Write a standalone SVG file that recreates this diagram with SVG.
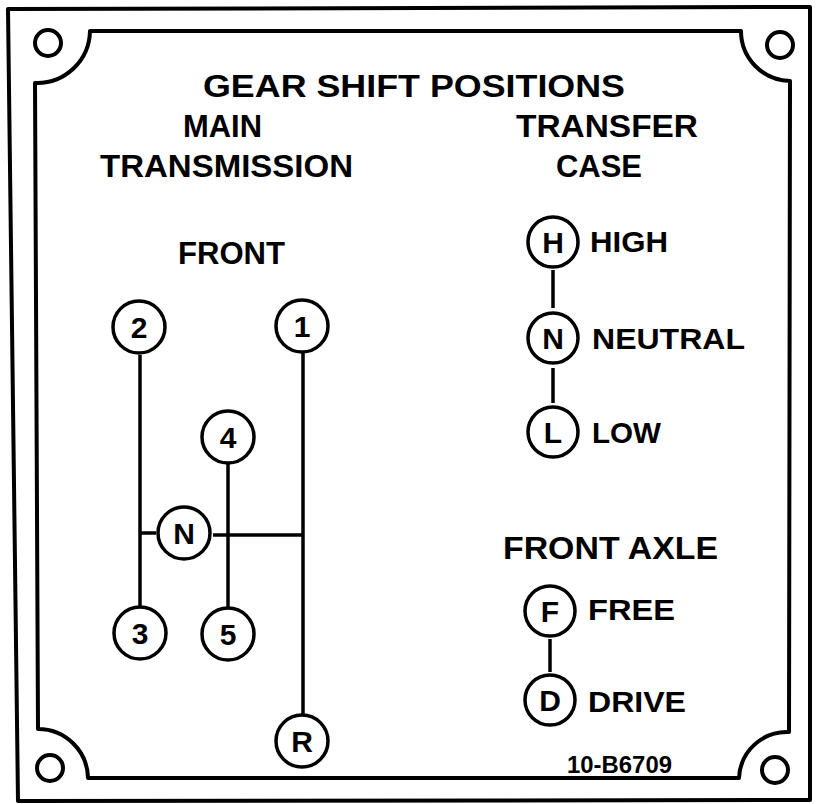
<svg xmlns="http://www.w3.org/2000/svg" width="817" height="804" viewBox="0 0 817 804">
<style>
.frame{fill:none;stroke:#000;stroke-width:4;stroke-linejoin:round}
.hole{fill:none;stroke:#000;stroke-width:4}
.ring{fill:#fff;stroke:#000;stroke-width:3.5}
.ln{stroke:#000;stroke-width:3.5;fill:none}
text{font-family:"Liberation Sans",Arial,sans-serif;font-weight:bold;fill:#000}
.h{font-size:32px}
.lab{font-size:30px}
.c{font-size:30px;text-anchor:middle}
</style>
<rect width="817" height="804" fill="#fff"/>
<g id="plate">
<path class="frame" d="M8,9 L810,7 L810,800 L18,801 Z"/>
<path class="frame" d="M90,31 L741,31 A50,50 0 0 0 790,81 L789,732 A48,48 0 0 0 739,778 L88,778 A50,50 0 0 0 38,729 L35,83 A53,53 0 0 0 90,31 Z"/>
<circle class="hole" cx="48" cy="43" r="13"/>
<circle class="hole" cx="780" cy="45" r="13"/>
<circle class="hole" cx="50" cy="768" r="13"/>
<circle class="hole" cx="775" cy="770" r="13"/>
</g>
<g id="titles">
<text class="h" x="203" y="97" textLength="422" lengthAdjust="spacingAndGlyphs">GEAR SHIFT POSITIONS</text>
<text class="h" x="183" y="137" textLength="79" lengthAdjust="spacingAndGlyphs">MAIN</text>
<text class="h" x="100" y="177" textLength="253" lengthAdjust="spacingAndGlyphs">TRANSMISSION</text>
<text class="h" x="516" y="137" textLength="182" lengthAdjust="spacingAndGlyphs">TRANSFER</text>
<text class="h" x="556" y="177" textLength="86" lengthAdjust="spacingAndGlyphs">CASE</text>
<text class="h" x="178" y="264" textLength="107" lengthAdjust="spacingAndGlyphs">FRONT</text>
<text class="h" x="503" y="559" textLength="215" lengthAdjust="spacingAndGlyphs">FRONT AXLE</text>
<text style="font-size:23px" x="567" y="773" textLength="105" lengthAdjust="spacingAndGlyphs">10-B6709</text>
</g>
<g id="connectors">
<line class="ln" x1="140" y1="355" x2="140" y2="606"/>
<line class="ln" x1="140" y1="533" x2="156" y2="533"/>
<line class="ln" x1="228" y1="464" x2="228" y2="608"/>
<line class="ln" x1="303" y1="353" x2="303" y2="714"/>
<line class="ln" x1="213" y1="535" x2="303" y2="535"/>
<line class="ln" x1="553" y1="270" x2="553" y2="308"/>
<line class="ln" x1="553" y1="368" x2="553" y2="403"/>
<line class="ln" x1="550" y1="639" x2="550" y2="672"/>
</g>
<g id="g2"><circle class="ring" cx="139" cy="327" r="26"/><text class="c" x="139" y="338">2</text></g>
<g id="g1"><circle class="ring" cx="302" cy="326" r="26"/><text class="c" x="302" y="337">1</text></g>
<g id="g4"><circle class="ring" cx="228" cy="437" r="26"/><text class="c" x="228" y="448">4</text></g>
<g id="gN"><circle class="ring" cx="184" cy="533" r="26"/><text class="c" x="184" y="544">N</text></g>
<g id="g3"><circle class="ring" cx="140" cy="633" r="26"/><text class="c" x="140" y="644">3</text></g>
<g id="g5"><circle class="ring" cx="228" cy="634" r="26"/><text class="c" x="228" y="645">5</text></g>
<g id="gR"><circle class="ring" cx="302" cy="741" r="26"/><text class="c" x="302" y="752">R</text></g>
<g id="tcH"><circle class="ring" cx="553" cy="242" r="25"/><text class="c" x="553" y="253">H</text><text class="lab" x="590" y="252" textLength="78" lengthAdjust="spacingAndGlyphs">HIGH</text></g>
<g id="tcN"><circle class="ring" cx="553" cy="338" r="25"/><text class="c" x="553" y="349">N</text><text class="lab" x="592" y="349" textLength="153" lengthAdjust="spacingAndGlyphs">NEUTRAL</text></g>
<g id="tcL"><circle class="ring" cx="553" cy="432" r="25"/><text class="c" x="553" y="443">L</text><text class="lab" x="592" y="443" textLength="69" lengthAdjust="spacingAndGlyphs">LOW</text></g>
<g id="faF"><circle class="ring" cx="550" cy="611" r="25"/><text class="c" x="550" y="622">F</text><text class="lab" x="588" y="620" textLength="87" lengthAdjust="spacingAndGlyphs">FREE</text></g>
<g id="faD"><circle class="ring" cx="550" cy="700" r="25"/><text class="c" x="550" y="711">D</text><text class="lab" x="588" y="712" textLength="98" lengthAdjust="spacingAndGlyphs">DRIVE</text></g>
</svg>
